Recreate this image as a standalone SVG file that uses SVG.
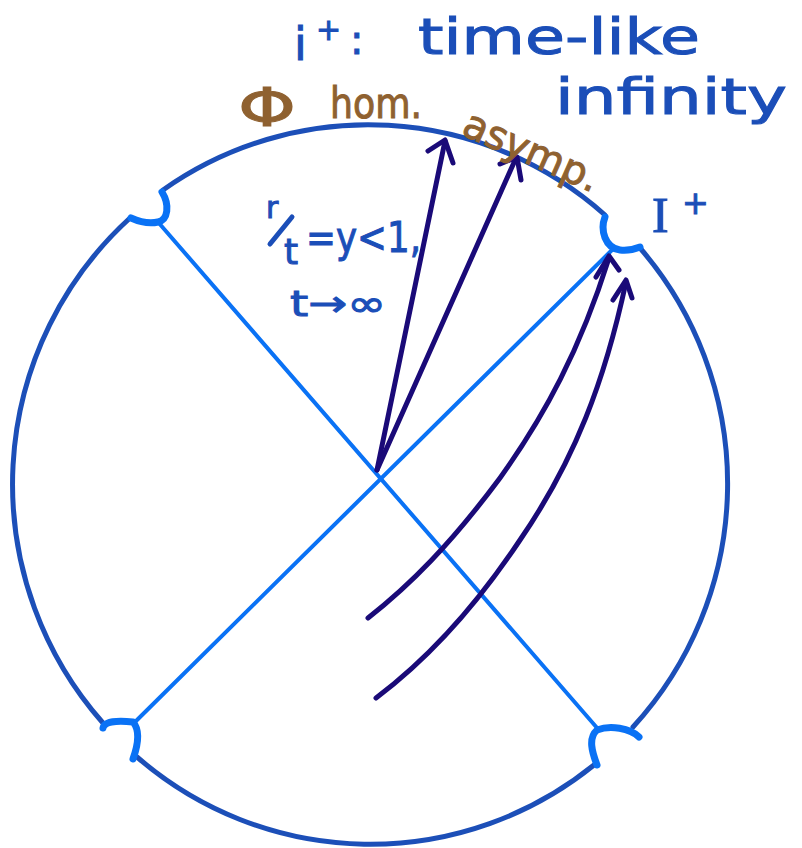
<svg xmlns="http://www.w3.org/2000/svg" width="802" height="848" viewBox="0 0 802 848">
<style>
.circ{fill:none;stroke:#1c4fb8;stroke-width:5;stroke-linecap:round}
.cusp{fill:none;stroke:#0a72f5;stroke-width:7;stroke-linecap:round;stroke-linejoin:round}
.diag{fill:none;stroke:#0a72f5;stroke-width:4;stroke-linecap:round}
.arr{fill:none;stroke:#1a0a78;stroke-width:5;stroke-linecap:round;stroke-linejoin:round}
.tb{fill:#1b4eb8;stroke:#1b4eb8;stroke-width:1;font-family:"DejaVu Sans","Noto Sans",sans-serif}
.tr{fill:#8f6130;stroke:#8f6130;stroke-width:1;font-family:"DejaVu Sans","Noto Sans",sans-serif}
</style>
<rect width="802" height="848" fill="#ffffff"/>
<g id="boundary">
<path class="circ" d="M163,190 A357,359 0 0 1 605,215"/>
<path class="circ" d="M640,248 A357,359 0 0 1 633,727"/>
<path class="circ" d="M594,765 A357,359 0 0 1 137,757"/>
<path class="circ" d="M103,723 A357,359 0 0 1 130,218"/>
</g>
<g id="cusps">
<path class="cusp" d="M162,192 C170,205 168,220 158,222 C150,224 140,222 131,218"/>
<path class="cusp" d="M605,217 C600,230 605,248 620,250 C628,251 635,249 640,247"/>
<path class="cusp" d="M103,728 C104,722 115,720 133,722 C140,730 138,745 133,759"/>
<path class="cusp" d="M639,737 C630,728 610,725 597,730 C588,738 592,752 597,765"/>
</g>
<g id="connectors">
<path class="diag" d="M158,222 L598,729"/>
<path class="diag" d="M612,250 L135,722"/>
<path class="arr" d="M377,470 L445,141"/>
<path class="arr" d="M428,151 L445,140 L453,163"/>
<path class="arr" d="M377,470 L516,158"/>
<path class="arr" d="M500,164 L517,157 L521,180"/>
<path class="arr" d="M368,618 C410,585 450,545 500,478 C545,415 580,350 609,258"/>
<path class="arr" d="M596,277 L609,256 L619,270"/>
<path class="arr" d="M376,698 C420,665 470,615 520,540 C575,460 605,380 626,282"/>
<path class="arr" d="M613,300 L626,280 L632,298"/>
</g>
<g id="labels">
<text class="tb" x="294" y="60" font-size="46">i</text>
<text class="tb" x="316" y="40" font-size="30">+</text>
<text class="tb" x="350" y="54" font-size="40">:</text>
<text class="tb" x="418" y="54" font-size="50" textLength="282" lengthAdjust="spacingAndGlyphs">time-like</text>
<text class="tb" x="555" y="114" font-size="50" textLength="232" lengthAdjust="spacingAndGlyphs">infinity</text>
<text class="tr" x="238" y="126" font-size="54" textLength="58" lengthAdjust="spacingAndGlyphs">Φ</text>
<text class="tr" x="330" y="118" font-size="42" textLength="92" lengthAdjust="spacingAndGlyphs">hom.</text>
<text class="tr" x="460" y="134" font-size="40" transform="rotate(24 460 134)" textLength="145" lengthAdjust="spacingAndGlyphs">asymp.</text>
<text class="tb" x="266" y="218" font-size="30">r</text>
<path d="M292,217 L270,244" fill="none" stroke="#1b4eb8" stroke-width="5" stroke-linecap="round"/>
<text class="tb" x="284" y="264" font-size="36">t</text>
<text class="tb" x="306" y="252" font-size="42" textLength="115" lengthAdjust="spacingAndGlyphs">=y&lt;1,</text>
<text class="tb" x="290" y="316" font-size="36" textLength="96" lengthAdjust="spacingAndGlyphs">t→∞</text>
<text class="tb" x="652" y="232" font-size="50" style="font-family:'Liberation Serif',serif">I</text>
<text class="tb" x="682" y="214" font-size="32">+</text>
</g>
</svg>
